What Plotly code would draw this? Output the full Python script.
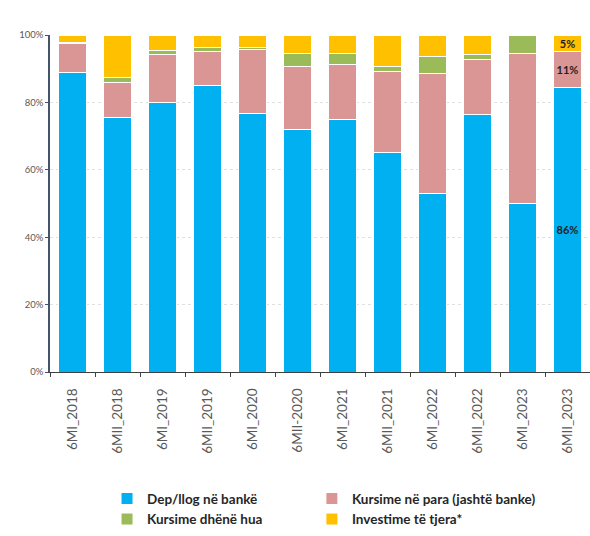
import plotly.graph_objects as go

categories = ["6MI_2018", "6MII_2018", "6MI_2019", "6MII_2019", "6MI_2020", "6MII-2020",
              "6MI_2021", "6MII_2021", "6MI_2022", "6MII_2022", "6MI_2023", "6MII_2023"]
dep_bank = [89, 75.5, 80, 85, 76.6, 72, 74.8, 65, 53, 76.3, 50, 86]
kursime_para = [8.5, 10.5, 14.3, 10, 19, 18.8, 16.3, 24.2, 35.6, 16.5, 44.6, 11]
kursime_hua = [0.4, 1.5, 1.2, 1.2, 0.8, 3.7, 3.5, 1.5, 5, 1.5, 5.4, 0]
investime = [2.2, 12.5, 4.5, 3.8, 3.6, 5.5, 5.4, 9.3, 6.4, 5.7, 0, 5]
y_ticks = [0, 20, 40, 60, 80, 100]
y_tick_labels = ["0%", "20%", "40%", "60%", "80%", "100%"]

series = [
    ("Dep/llog në bankë", dep_bank, "#00B0F0", "legend"),
    ("Kursime në para (jashtë banke)", kursime_para, "#DA9694", "legend2"),
    ("Kursime dhënë hua", kursime_hua, "#9BBB59", "legend"),
    ("Investime të tjera*", investime, "#FFC000", "legend2"),
]

fig = go.Figure()
last = len(categories) - 1
for name, vals, color, lg in series:
    text = [f"{v:.0f}%" if (i == last and v > 0) else "" for i, v in enumerate(vals)]
    fig.add_trace(go.Bar(
        x=categories, y=vals, name=name, legend=lg,
        marker=dict(color=color, line=dict(color="white", width=1)),
        text=text, textposition="inside", insidetextanchor="middle",
        textangle=0, constraintext="none",
        textfont=dict(family="Lato", size=11, color="#1F1F1F", weight="bold"),
        hoverinfo="skip",
    ))

legend_font = dict(family="Lato", size=13.5, color="#262626", weight="bold")
fig.update_layout(
    width=590, height=536,
    margin=dict(l=50, r=0, t=35, b=164),
    barmode="stack", barnorm="percent", bargap=0.38,
    plot_bgcolor="white", paper_bgcolor="white",
    font=dict(family="Lato", color="#404040"),
    legend=dict(x=0.1056, y=-0.33, xanchor="left", yanchor="top",
                orientation="v", tracegroupgap=0, traceorder="normal",
                font=legend_font, itemwidth=30, bgcolor="rgba(0,0,0,0)"),
    legend2=dict(x=0.485, y=-0.33, xanchor="left", yanchor="top",
                 orientation="v", tracegroupgap=0, traceorder="normal",
                 font=legend_font, itemwidth=30, bgcolor="rgba(0,0,0,0)"),
    xaxis=dict(type="category", tickangle=-90, tickson="boundaries",
               ticks="outside", ticklen=4, tickcolor="#404040",
               showline=True, linecolor="#404040", linewidth=1,
               ticklabelstandoff=10,
               tickfont=dict(family="Lato", size=13.5, color="#595959"),
               range=[-0.5, 11.5]),
    yaxis=dict(range=[0, 100], tickvals=y_ticks, ticktext=y_tick_labels,
               ticks="outside", ticklen=3, tickcolor="#44546A",
               showline=True, linecolor="#44546A", linewidth=1.5,
               showgrid=True, gridcolor="#E0E0E0", griddash="dot",
               tickfont=dict(family="Lato", size=9.5, color="#595959"),
               zeroline=False),
)

fig.write_html("out.html")
